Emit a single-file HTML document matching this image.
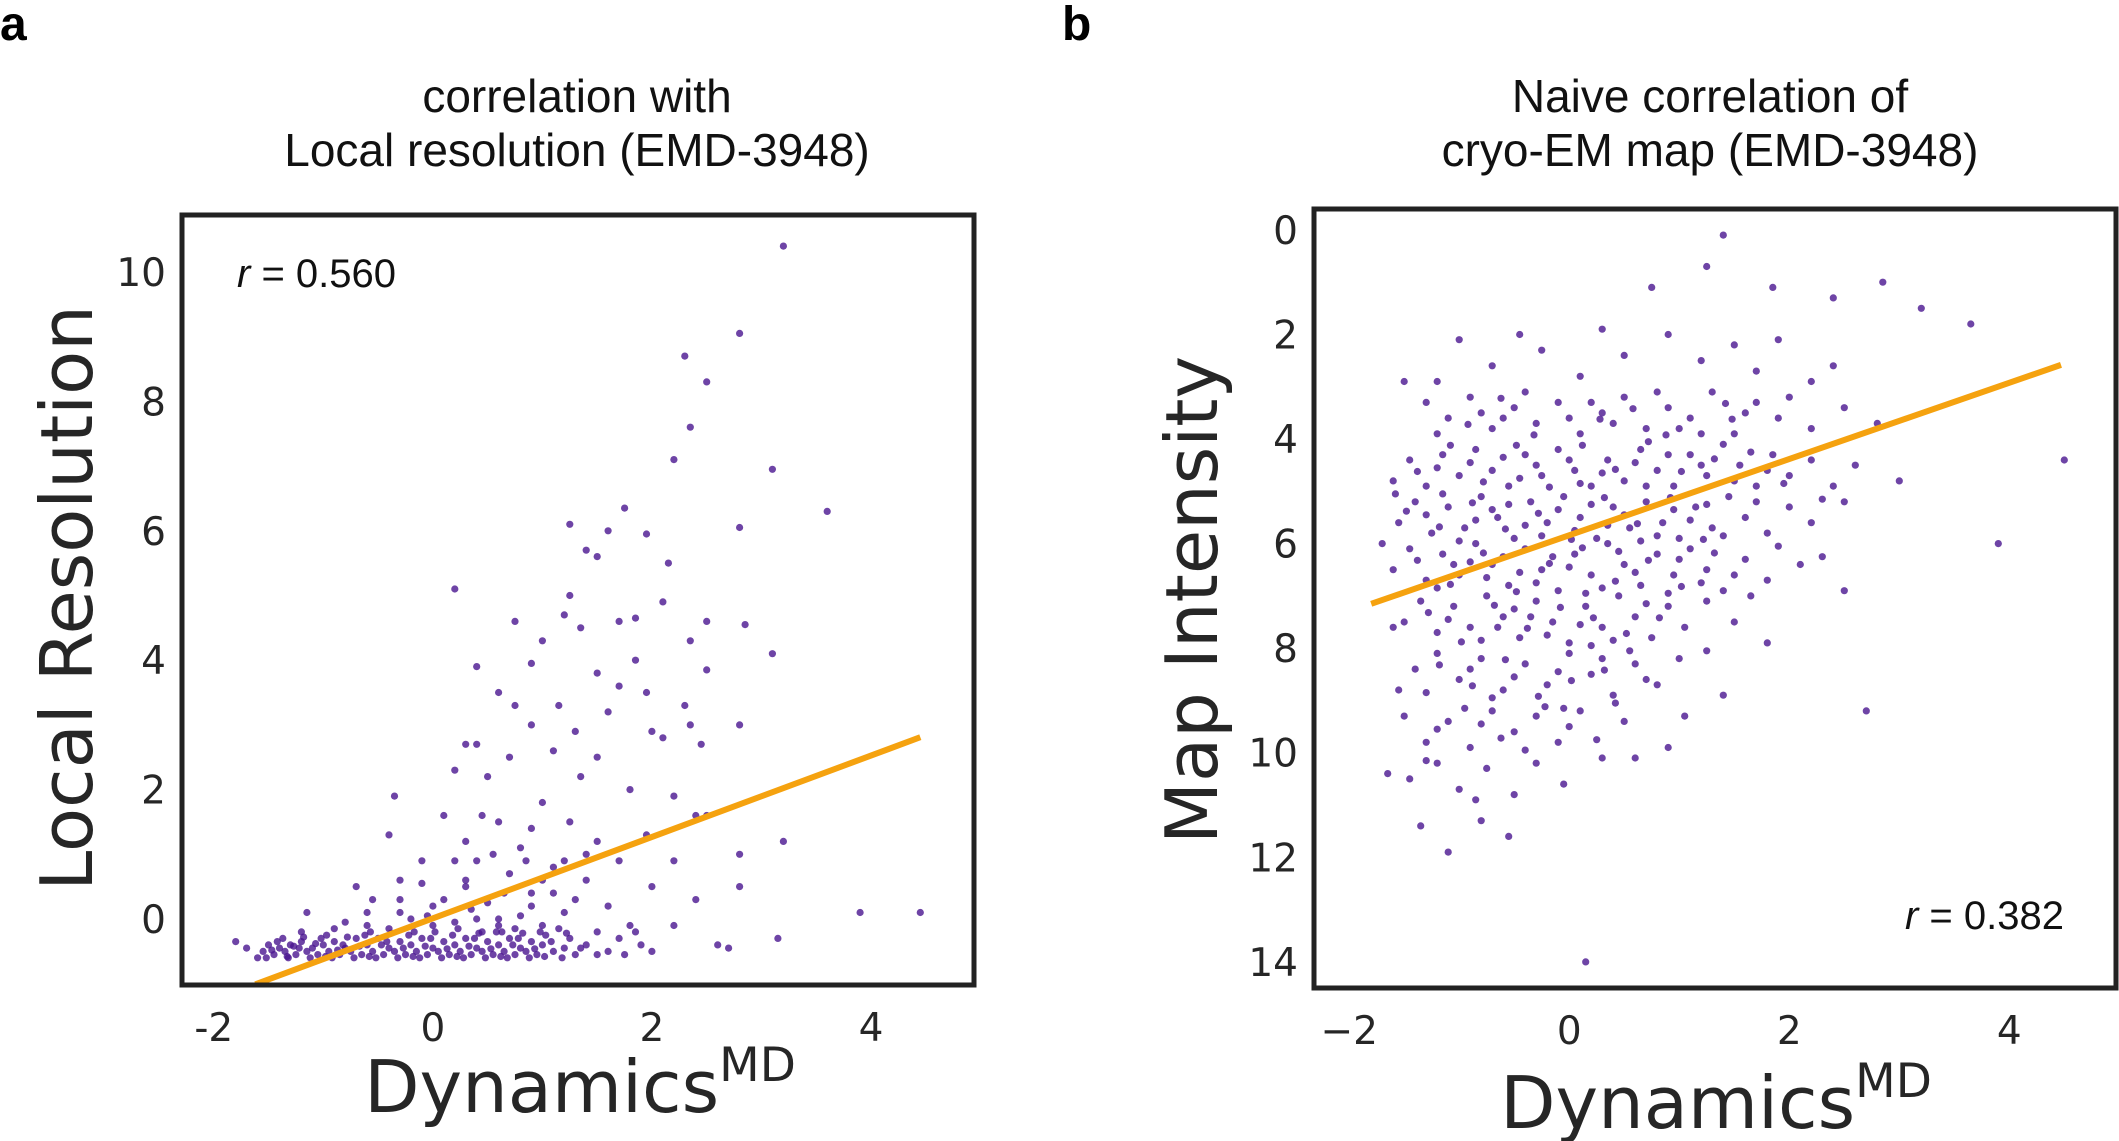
<!DOCTYPE html>
<html><head><meta charset="utf-8">
<style>
html,body{margin:0;padding:0;background:#fff;}
svg{display:block;}
.tick{font-family:"DejaVu Sans",sans-serif;font-size:39px;fill:#262626;}
.axl{font-family:"DejaVu Sans",sans-serif;font-size:72px;fill:#262626;}
.ttl{font-family:"Liberation Sans",sans-serif;font-size:46px;fill:#111;}
.rl{font-family:"Liberation Sans",sans-serif;font-size:40px;fill:#111;}
.pl{font-family:"Liberation Sans",sans-serif;font-size:48px;font-weight:bold;fill:#000;}
</style></head>
<body>
<svg id="fig" width="2119" height="1141" viewBox="0 0 2119 1141">
  <text class="pl" x="0" y="40">a</text>
  <text class="pl" x="1062" y="40">b</text>
  <text class="ttl" x="577" y="112" text-anchor="middle">correlation with</text>
  <text class="ttl" x="577" y="166" text-anchor="middle">Local resolution (EMD-3948)</text>
  <text class="ttl" x="1710" y="112" text-anchor="middle">Naive correlation of</text>
  <text class="ttl" x="1710" y="166" text-anchor="middle">cryo-EM map (EMD-3948)</text>
  <g id="pa"></g>
  <g id="pb"></g>
</svg>
<script>
// ---- Panel A data ----
const aXTicks = [-2, 0, 2, 4];
const aXTickLabels = ["-2", "0", "2", "4"];
const aYTicks = [0, 2, 4, 6, 8, 10];
const aYTickLabels = ["0", "2", "4", "6", "8", "10"];
const aFit = [0.01, 0.629]; // intercept, slope
const aFitRange = [-1.62, 4.45];
const aPoints = "3.2 10.4;2.8 9.05;2.3 8.7;2.5 8.3;2.35 7.6;2.2 7.1;3.1 6.95;3.6 6.3;1.75 6.35;1.25 6.1;1.6 6.0;1.95 5.95;2.8 6.05;1.4 5.7;1.5 5.6;2.15 5.5;0.2 5.1;1.25 5.0;2.1 4.9;1.2 4.7;0.75 4.6;1.35 4.5;1.7 4.6;1.85 4.65;2.5 4.6;2.85 4.55;1.0 4.3;2.35 4.3;1.85 4.0;0.4 3.9;0.9 3.95;2.5 3.85;3.1 4.1;1.5 3.8;1.7 3.6;0.6 3.5;1.95 3.5;0.75 3.3;1.15 3.3;1.6 3.2;2.3 3.3;0.9 3.0;1.3 2.9;2.0 2.9;2.35 3.0;2.8 3.0;0.3 2.7;0.4 2.7;0.7 2.5;1.1 2.6;1.5 2.5;2.1 2.8;2.45 2.7;0.2 2.3;0.5 2.2;1.35 2.2;1.8 2.0;-0.35 1.9;0.1 1.6;0.6 1.5;1.0 1.8;1.25 1.5;2.2 1.9;2.4 1.6;-0.4 1.3;0.3 1.2;0.8 1.1;1.5 1.2;1.95 1.3;2.5 1.6;3.2 1.2;-0.1 0.9;0.4 0.9;1.1 0.8;1.7 0.9;2.2 0.9;2.8 1.0;-0.7 0.5;-0.3 0.6;0.3 0.5;0.9 0.4;1.3 0.3;2.0 0.5;2.4 0.3;2.8 0.5;-1.15 0.1;-0.6 0.1;0.0 0.2;0.6 0.0;1.2 0.1;1.8 -0.1;2.2 -0.1;3.9 0.1;4.45 0.1;3.15 -0.3;2.6 -0.4;2.7 -0.45;"
 + "-1.55 -0.5;-1.5 -0.4;-1.45 -0.55;-1.4 -0.45;-1.35 -0.5;-1.3 -0.4;-1.25 -0.55;-1.2 -0.35;-1.15 -0.5;-1.1 -0.45;-1.05 -0.55;-1.0 -0.4;-0.95 -0.5;-0.9 -0.35;-0.85 -0.55;-0.8 -0.45;-0.75 -0.5;-0.7 -0.3;-0.65 -0.55;-0.6 -0.4;-0.55 -0.5;-0.5 -0.3;-0.45 -0.55;-0.4 -0.45;-0.35 -0.5;-0.3 -0.35;-0.25 -0.55;-0.2 -0.4;-0.15 -0.5;-0.1 -0.3;-0.05 -0.55;0 -0.45;0.05 -0.5;0.1 -0.35;0.15 -0.55;0.2 -0.4;0.25 -0.5;0.3 -0.3;0.35 -0.55;0.4 -0.45;0.45 -0.5;0.5 -0.35;0.55 -0.55;0.6 -0.4;0.65 -0.5;0.7 -0.3;0.75 -0.55;0.8 -0.45;0.85 -0.5;0.9 -0.35;0.95 -0.55;1.0 -0.4;1.1 -0.5;1.2 -0.45;1.3 -0.55;"
 + "-1.52 -0.6;-1.42 -0.35;-1.32 -0.6;-1.22 -0.45;-1.12 -0.6;-1.02 -0.3;-0.92 -0.6;-0.82 -0.4;-0.72 -0.6;-0.62 -0.25;-0.52 -0.6;-0.42 -0.35;-0.32 -0.6;-0.22 -0.25;-0.12 -0.6;-0.02 -0.3;0.08 -0.6;0.18 -0.25;0.28 -0.6;0.38 -0.3;0.48 -0.6;0.58 -0.2;0.68 -0.6;0.78 -0.3;0.88 -0.6;0.98 -0.2;1.08 -0.35;1.18 -0.6;1.4 -0.4;1.5 -0.55;"
 + "-1.2 -0.2;-0.9 -0.15;-0.6 -0.1;-0.4 -0.15;-0.2 0.0;0 -0.1;0.2 -0.05;0.4 0.0;0.6 -0.1;0.8 0.05;1.0 -0.1;0.1 0.3;0.5 0.25;0.9 0.2;-0.3 0.3;0.3 0.6;0.7 0.7;1.1 0.4;-0.1 0.55;0.55 1.0;0.85 0.9;1.4 0.6;1.6 0.2;1.7 -0.3;1.9 -0.4;1.5 -0.2;-1.8 -0.35;-1.7 -0.45;-1.6 -0.6;"
 + "-1.47 -0.48;-1.27 -0.42;-1.07 -0.38;-0.87 -0.48;-0.67 -0.42;-0.47 -0.4;-0.27 -0.45;-0.07 -0.42;0.13 -0.46;0.33 -0.42;0.53 -0.46;0.73 -0.4;0.93 -0.46;-1.37 -0.3;-0.97 -0.25;-0.57 -0.2;-0.17 -0.2;0.23 -0.15;0.63 -0.2;1.03 -0.25;1.25 -0.3;-0.8 -0.05;-0.05 0.05;0.45 -0.2;0.75 -0.15;1.15 -0.15;"
 + "-1.33 -0.58;-1.18 -0.28;-0.98 -0.58;-0.78 -0.28;-0.58 -0.58;-0.38 -0.22;-0.18 -0.58;0.02 -0.2;0.22 -0.58;0.42 -0.22;0.62 -0.58;0.82 -0.22;1.02 -0.58;1.22 -0.22;1.35 -0.45;1.6 -0.5;1.75 -0.55;1.85 -0.2;2.0 -0.5;-0.3 0.1;0.35 0.15;0.65 0.4;1.0 0.6;1.2 0.9;0.2 0.9;-0.55 0.3;0.9 1.4;0.45 1.6;1.4 1.0";

// ---- Panel B data ----
const bXTicks = [-2, 0, 2, 4];
const bXTickLabels = ["\u22122", "0", "2", "4"];
const bYTicks = [0, 2, 4, 6, 8, 10, 12, 14];
const bYTickLabels = ["0", "2", "4", "6", "8", "10", "12", "14"];
const bFit = [5.84, -0.729];
const bFitRange = [-1.8, 4.47];
const bPoints = "1.4 0.1;1.25 0.7;0.75 1.1;1.85 1.1;2.4 1.3;2.85 1.0;3.2 1.5;3.65 1.8;4.5 4.4;3.9 6.0;2.7 9.2;0.15 14.0;-1.1 11.9;-0.55 11.6;-0.8 11.3;-1.35 11.4;"
 + "-1.0 2.1;-0.45 2.0;-0.25 2.3;0.3 1.9;0.5 2.4;0.9 2.0;1.2 2.5;1.5 2.2;1.9 2.1;2.4 2.6;-0.7 2.6;0.1 2.8;1.7 2.7;2.2 2.9;-1.2 2.9;-1.5 2.9;"
 + "-1.3 3.3;-1.1 3.6;-0.9 3.2;-0.7 3.8;-0.5 3.4;-0.3 3.7;-0.1 3.3;0.1 3.9;0.3 3.5;0.5 3.2;0.7 3.8;0.9 3.4;1.1 3.6;1.3 3.1;1.5 3.9;1.7 3.3;1.9 3.6;2.2 3.8;2.5 3.4;-1.2 3.9;-0.8 3.5;-0.4 3.1;0.0 3.6;0.4 3.7;0.8 3.1;1.2 3.9;1.6 3.5;2.0 3.2;-0.6 3.6;0.2 3.3;1.0 3.8;2.8 3.7;"
 + "-1.6 4.8;-1.45 4.4;-1.3 4.9;-1.15 4.3;-1.0 4.7;-0.85 4.2;-0.7 4.6;-0.55 4.9;-0.4 4.3;-0.25 4.7;-0.1 4.2;0.05 4.6;0.2 4.9;0.35 4.4;0.5 4.8;0.65 4.2;0.8 4.6;0.95 4.9;1.1 4.3;1.25 4.7;1.4 4.1;1.55 4.5;1.7 4.9;1.85 4.3;2.0 4.7;2.2 4.4;2.4 4.9;2.6 4.5;3.0 4.8;-1.2 4.55;-0.9 4.45;-0.6 4.35;-0.3 4.5;0.0 4.4;0.3 4.65;0.6 4.45;0.9 4.3;1.2 4.5;1.5 4.8;1.8 4.6;-0.45 4.75;0.1 4.85;0.7 4.9;"
 + "-1.55 5.6;-1.4 5.2;-1.25 5.8;-1.1 5.3;-0.95 5.7;-0.8 5.1;-0.65 5.5;-0.5 5.9;-0.35 5.2;-0.2 5.6;-0.05 5.1;0.1 5.5;0.25 5.9;0.4 5.3;0.55 5.7;0.7 5.2;0.85 5.6;1.0 5.9;1.15 5.3;1.3 5.7;1.45 5.1;1.6 5.5;1.8 5.8;2.0 5.3;2.2 5.6;2.5 5.2;-1.3 5.45;-1.0 5.95;-0.7 5.35;-0.4 5.65;-0.1 5.35;0.2 5.25;0.5 5.45;0.8 5.85;1.1 5.55;1.4 5.85;-0.85 5.55;-0.25 5.85;0.35 5.65;0.95 5.35;-0.55 5.25;0.05 5.75;0.65 5.95;1.25 5.25;-1.15 5.05;1.7 5.2;"
 + "-1.6 6.5;-1.45 6.1;-1.3 6.7;-1.15 6.2;-1.0 6.6;-0.85 6.0;-0.7 6.4;-0.55 6.8;-0.4 6.1;-0.25 6.5;-0.1 6.9;0.05 6.2;0.2 6.6;0.35 6.0;0.5 6.4;0.65 6.8;0.8 6.2;0.95 6.6;1.1 6.1;1.25 6.5;1.4 6.9;1.6 6.3;1.8 6.7;2.1 6.4;2.5 6.9;-1.2 6.85;-0.9 6.35;-0.6 6.25;-0.3 6.75;0.0 6.45;0.3 6.85;0.6 6.55;0.9 6.95;1.2 6.75;-0.75 6.65;-0.15 6.25;0.45 6.15;1.0 6.3;-0.45 6.55;0.15 6.95;-1.05 6.4;1.5 6.6;"
 + "-1.5 7.5;-1.35 7.1;-1.2 7.7;-1.05 7.2;-0.9 7.6;-0.75 7.0;-0.6 7.4;-0.45 7.8;-0.3 7.1;-0.15 7.5;0.0 7.9;0.15 7.2;0.3 7.6;0.45 7.0;0.6 7.4;0.75 7.8;0.9 7.2;1.05 7.6;1.25 7.1;1.5 7.5;1.8 7.9;-1.1 7.45;-0.8 7.85;-0.5 7.25;-0.2 7.75;0.1 7.55;0.4 7.85;0.7 7.15;-0.65 7.6;-0.35 7.4;0.2 7.95;"
 + "-1.4 8.4;-1.2 8.1;-1.0 8.6;-0.8 8.2;-0.6 8.8;-0.4 8.3;-0.2 8.7;0.0 8.1;0.2 8.5;0.4 8.9;0.6 8.3;0.8 8.7;1.0 8.2;1.4 8.9;-1.3 8.85;-0.9 8.4;-0.5 8.55;-0.1 8.45;0.3 8.2;0.7 8.6;-0.7 8.95;"
 + "-1.5 9.3;-1.3 9.8;-1.1 9.4;-0.9 9.9;-0.7 9.2;-0.5 9.6;-0.3 9.3;-0.1 9.8;0.1 9.2;0.25 9.75;0.5 9.4;0.9 9.9;-1.2 9.55;-0.8 9.45;-0.4 9.95;0.0 9.5;"
 + "-1.45 10.5;-1.2 10.2;-1.0 10.7;-0.75 10.3;-0.5 10.8;-0.3 10.2;-0.05 10.6;0.3 10.1;-0.85 10.9;-1.65 10.4;"
 + "-1.38 4.62;-1.08 4.12;-0.78 4.82;-0.48 4.12;-0.18 4.92;0.12 4.12;0.42 4.58;0.72 4.05;1.02 4.62;1.32 4.38;-1.48 5.38;-1.18 5.68;-0.88 5.22;-0.58 5.72;-0.28 5.42;0.02 5.92;0.32 5.12;0.62 5.62;0.92 5.12;1.22 5.92;-1.38 6.32;-1.08 6.78;-0.78 6.18;-0.48 6.92;-0.18 6.38;0.12 6.08;0.42 6.72;0.72 6.32;1.02 6.82;1.32 6.18;-1.28 7.32;-0.98 7.88;-0.68 7.18;-0.38 7.62;-0.08 7.22;0.22 7.42;0.52 7.72;0.82 7.42;-1.18 8.32;-0.88 8.72;-0.58 8.22;-0.28 8.92;0.02 8.62;0.32 8.42;-0.95 9.15;-0.62 9.72;-0.22 9.12;0.42 9.05;-0.92 3.72;-0.32 3.92;0.28 3.62;0.88 3.92;1.48 3.62;-0.62 3.22;0.58 3.42;1.42 3.32;1.65 4.25;1.95 4.85;2.3 5.15;1.9 6.05;2.3 6.25;1.65 7.0;1.25 8.05;0.55 8.05;-0.05 9.15;-1.55 8.8;-1.6 7.6;-1.7 6.0;-1.58 5.05;1.05 9.3;0.6 10.1;-1.3 10.15";

const NS = "http://www.w3.org/2000/svg";
function parsePts(s){ return s.split(";").filter(t=>t.trim()).map(t=>t.trim().split(/\s+/).map(Number)); }
function mk(tag, parent){ const e=document.createElementNS(NS,tag); parent.appendChild(e); return e; }

function drawPanel(g, cfg){
  const sx = v => cfg.x0 + (v - cfg.xmin) * (cfg.x1 - cfg.x0) / (cfg.xmax - cfg.xmin);
  const sy = cfg.inv
    ? v => cfg.y0 + (v - cfg.ymin) * (cfg.y1 - cfg.y0) / (cfg.ymax - cfg.ymin)
    : v => cfg.y1 - (v - cfg.ymin) * (cfg.y1 - cfg.y0) / (cfg.ymax - cfg.ymin);
  const cp = mk("clipPath", g); cp.setAttribute("id", cfg.id + "-clip");
  const cr = mk("rect", cp);
  cr.setAttribute("x", cfg.x0); cr.setAttribute("y", cfg.y0);
  cr.setAttribute("width", cfg.x1 - cfg.x0); cr.setAttribute("height", cfg.y1 - cfg.y0);
  const pg = mk("g", g); pg.setAttribute("clip-path", "url(#" + cfg.id + "-clip)");
  
  
  parsePts(cfg.pts).forEach(p=>{
    const c = mk("circle", pg);
    c.setAttribute("cx", sx(p[0]).toFixed(1)); c.setAttribute("cy", sy(p[1]).toFixed(1));
    c.setAttribute("r", cfg.r); c.setAttribute("fill", "#4a1590"); c.setAttribute("fill-opacity", "0.8");
    
    
  });
  const ln = mk("line", pg);
  ln.setAttribute("x1", sx(cfg.fitR[0])); ln.setAttribute("y1", sy(cfg.fit[0] + cfg.fit[1]*cfg.fitR[0]));
  ln.setAttribute("x2", sx(cfg.fitR[1])); ln.setAttribute("y2", sy(cfg.fit[0] + cfg.fit[1]*cfg.fitR[1]));
  ln.setAttribute("stroke", "#f5a20f"); ln.setAttribute("stroke-width", "6");
  
  
  const fr = mk("rect", g);
  fr.setAttribute("x", cfg.x0); fr.setAttribute("y", cfg.y0);
  fr.setAttribute("width", cfg.x1 - cfg.x0); fr.setAttribute("height", cfg.y1 - cfg.y0);
  fr.setAttribute("fill", "none"); fr.setAttribute("stroke", "#222"); fr.setAttribute("stroke-width", "5");
  
  
  cfg.xt.forEach((v,i)=>{
    const t = mk("text", g); t.setAttribute("class","tick");
    t.setAttribute("x", sx(v)); t.setAttribute("y", cfg.y1 + 56); t.setAttribute("text-anchor","middle");
    t.textContent = cfg.xtl[i];
    
    
  });
  cfg.yt.forEach((v,i)=>{
    const t = mk("text", g); t.setAttribute("class","tick");
    t.setAttribute("x", cfg.x0 - 16); t.setAttribute("y", sy(v) + 14); t.setAttribute("text-anchor","end");
    t.textContent = cfg.ytl[i];
    
    
  });
}

drawPanel(document.getElementById("pa"), {id:"pa", x0:182, x1:974, y0:215, y1:985,
  xmin:-2.29, xmax:4.94, ymin:-1.02, ymax:10.88, inv:false, r:3.6,
  pts:aPoints, fit:aFit, fitR:aFitRange, xt:aXTicks, xtl:aXTickLabels, yt:aYTicks, ytl:aYTickLabels});
drawPanel(document.getElementById("pb"), {id:"pb", x0:1314, x1:2116, y0:209, y1:988,
  xmin:-2.32, xmax:4.97, ymin:-0.40, ymax:14.5, inv:true, r:3.6,
  pts:bPoints, fit:bFit, fitR:bFitRange, xt:bXTicks, xtl:bXTickLabels, yt:bYTicks, ytl:bYTickLabels});

(function(){
  const svg = document.getElementById("fig");
  svg.insertAdjacentHTML("beforeend",
   '<text class="axl" transform="translate(92,598) rotate(-90)" text-anchor="middle">Local Resolution</text>' +
   '<text class="axl" transform="translate(1217,600) rotate(-90)" text-anchor="middle">Map Intensity</text>' +
   '<text class="axl" x="580" y="1112" text-anchor="middle">Dynamics<tspan font-size="47" dy="-31">MD</tspan></text>' +
   '<text class="axl" x="1716" y="1128" text-anchor="middle">Dynamics<tspan font-size="47" dy="-31">MD</tspan></text>' +
   '<text class="rl" x="237" y="287"><tspan font-style="italic">r</tspan> = 0.560</text>' +
   '<text class="rl" x="2064" y="929" text-anchor="end"><tspan font-style="italic">r</tspan> = 0.382</text>');
})();
</script>
</body></html>
